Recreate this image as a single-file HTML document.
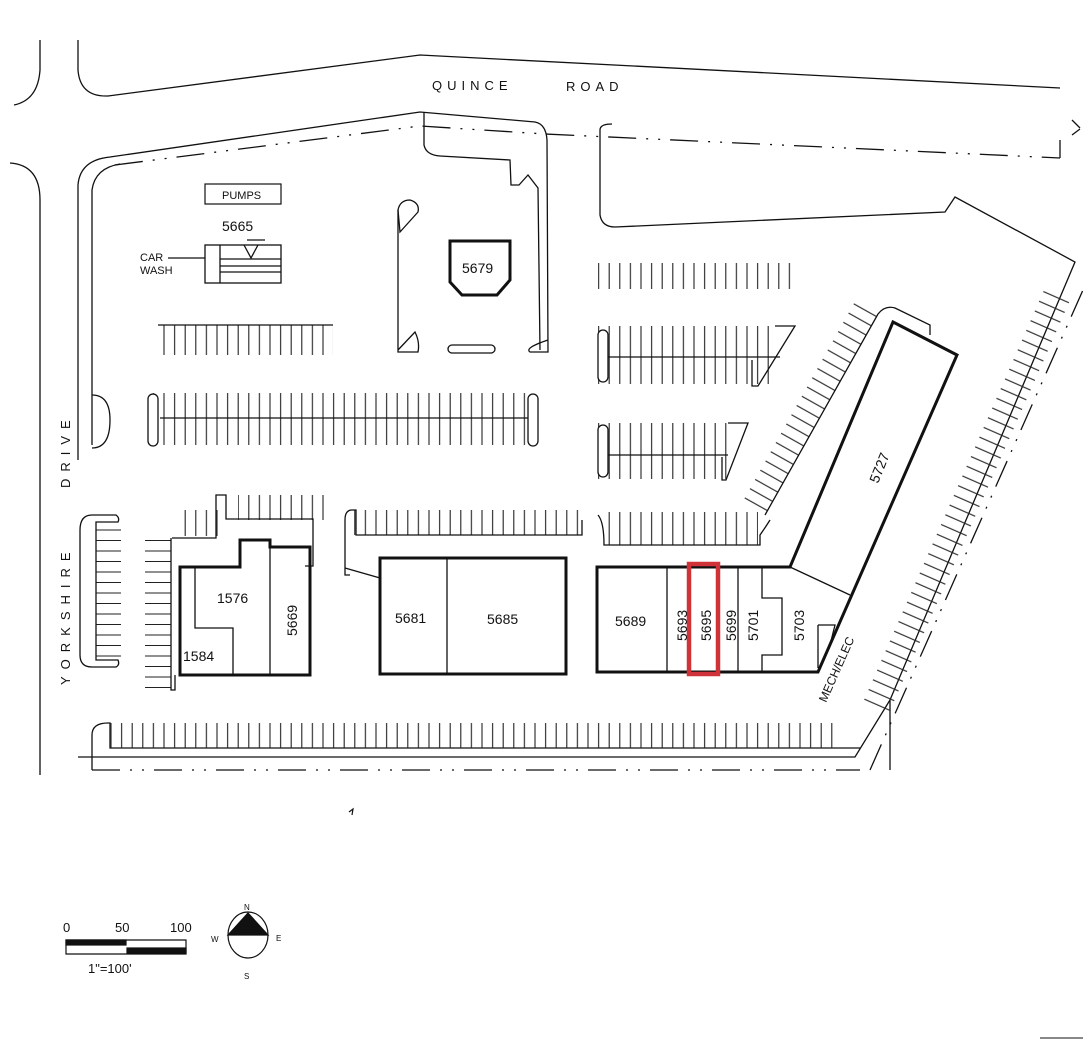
<!DOCTYPE html>
<html><head><meta charset="utf-8"><style>html,body{margin:0;padding:0;background:#fff}svg{display:block}text{font-family:"Liberation Sans",sans-serif;fill:#111}</style></head><body>
<svg width="1083" height="1045" viewBox="0 0 1083 1045" xmlns="http://www.w3.org/2000/svg">
<defs>
<pattern id="v" width="10.6" height="200" patternUnits="userSpaceOnUse"><line x1="5" y1="0" x2="5" y2="200" stroke="#222" stroke-width="1.1"/></pattern>
<pattern id="h" width="200" height="10.5" patternUnits="userSpaceOnUse"><line x1="0" y1="5" x2="200" y2="5" stroke="#222" stroke-width="1.1"/></pattern>
</defs>
<g fill="none" stroke="#111" stroke-width="1.3">
<!-- roads -->
<path d="M78 40 V70 Q80 97 108 96 L420 55 L1060 88"/>
<path d="M40 40 V70 Q38 100 14 105"/>
<path d="M10 163 Q40 165 40 200 V775"/>
<path d="M1072 120 l8 8 M1072 135 l8 -6"/>
<!-- site boundary top-left -->
<path d="M78 460 V185 Q80 160 110 157 L420 112 L535 122 Q546 124 547 140 L548 352 L530 352 Q524 348 548 340"/>
<path d="M92 445 V190 Q95 168 120 164"/>
<path d="M92 395 Q110 395 110 420 Q110 448 92 448"/>
<path d="M424 112 V145 Q426 155 440 156 L510 160 L511 185 L519 185 L528 175 L538 188 L540 350"/>
<path d="M115 165 L420 126 L545 134 L1060 158" stroke-dasharray="28 10 2 10 2 10"/>
<!-- gas island -->
<path d="M398 210 Q400 200 410 200 Q420 203 418 212 L400 232 Z"/>
<path d="M398 210 V352 H418 Q420 342 415 332 L398 350"/>
<rect x="448" y="345" width="47" height="8" rx="4"/>
<!-- right lot -->
<path d="M600 130 V215 Q602 227 615 227 L945 212 L955 197 L1075 262 L890 700 V770"/>
<path d="M600 130 Q600 124 612 124"/>
<path d="M1060 140 V158"/>
<path d="M870 770 L1083 290" stroke-dasharray="28 10 2 10 2 10"/>
<path d="M78 757 L855 757 L890 700"/>
<path d="M92 770 L860 770" stroke-dasharray="28 10 2 10 2 10"/>
<path d="M92 770 V735 Q92 723 108 723 H110 V748 H860"/>
<!-- pumps / carwash -->
<rect x="205" y="184" width="76" height="20" stroke-width="1.2"/>
<rect x="205" y="245" width="76" height="38"/>
<line x1="220" y1="245" x2="220" y2="283"/>
<line x1="220" y1="259" x2="281" y2="259"/><line x1="220" y1="266" x2="281" y2="266"/><line x1="220" y1="272" x2="281" y2="272"/>
<path d="M244 245 L251 258 L258 245 M247 240 H265"/>
<line x1="168" y1="258" x2="205" y2="258"/>
<!-- 5679 -->
<path d="M450 241 H510 V280 L497 295 H462 L450 282 Z" stroke-width="3"/>
<!-- parking rows -->
<rect x="158" y="325" width="175" height="30" fill="url(#v)" stroke="none"/>
<line x1="158" y1="325" x2="333" y2="325"/>
<rect x="150" y="393" width="380" height="52" fill="url(#v)" stroke="none"/>
<line x1="160" y1="418" x2="528" y2="418"/>
<rect x="148" y="394" width="10" height="52" rx="5" fill="#fff"/>
<rect x="528" y="394" width="10" height="52" rx="5" fill="#fff"/>
<rect x="598" y="263" width="200" height="26" fill="url(#v)" stroke="none"/>
<rect x="598" y="326" width="180" height="58" fill="url(#v)" stroke="none"/>
<line x1="608" y1="357" x2="780" y2="357"/>
<rect x="598" y="330" width="10" height="52" rx="5" fill="#fff"/>
<path d="M775 326 H795 L758 386 H752 V360"/>
<rect x="598" y="423" width="130" height="56" fill="url(#v)" stroke="none"/>
<line x1="608" y1="455" x2="728" y2="455"/>
<rect x="598" y="425" width="10" height="52" rx="5" fill="#fff"/>
<path d="M728 423 H748 L726 480 H722 V457"/>
<rect x="600" y="512" width="158" height="33" fill="url(#v)" stroke="none"/>
<path d="M598 515 Q604 522 604 545 H760 V535 Q765 528 770 520"/>
<rect x="352" y="510" width="230" height="25" fill="url(#v)" stroke="none"/>
<path d="M350 575 L345 575 V520 Q345 510 352 510 H356 V535 H582 V520"/>
<path d="M345 568 L380 578"/>
<rect x="176" y="510" width="50" height="26" fill="url(#v)" stroke="none"/>
<rect x="238" y="495" width="86" height="25" fill="url(#v)" stroke="none"/>
<path d="M172 538 H216 V495 H226 V519 H313 V566 H305"/>
<rect x="145" y="537" width="26" height="152" fill="url(#h)" stroke="none"/>
<path d="M171 538 V690 H175 V675"/>
<rect x="95" y="521" width="26" height="140" fill="url(#h)" stroke="none"/>
<path d="M116 515 H92 Q80 515 80 530 V655 Q80 667 92 667 H116 Q120 665 118 660 H96 V522 H118 Q120 518 116 515 Z" fill="#fff"/>
<rect x="110" y="723" width="726" height="25" fill="url(#v)" stroke="none"/>
<!-- diagonal rows -->
<g transform="translate(765,515) rotate(-60.7)"><rect x="0" y="-26" width="232" height="26" fill="url(#v)" stroke="none"/></g>
<path d="M765 515 L878 314 Q885 305 895 308 L930 325 V335"/>
<g transform="translate(888,715) rotate(-66.3)"><rect x="0" y="-28" width="453" height="28" fill="url(#v)" stroke="none"/></g>
<!-- buildings -->
<path d="M180 567 H240 V540 H270 V547 H310 V675 H180 Z" stroke-width="3"/>
<path d="M195 567 V628 H233 V675 M270 547 V675"/>
<rect x="380" y="558" width="186" height="116" stroke-width="3"/>
<line x1="447" y1="558" x2="447" y2="674"/>
<path d="M597 567 H790 L893 322 L957 355 L818 672 H597 Z" stroke-width="3"/>
<path d="M667 567 V672 M738 567 V672 M762 567 V598 H782 V655 H762 V672 M790 567 L850 595 M818 625 H835 L830 645 M818 625 V668"/>
</g>
<rect x="689" y="564" width="29" height="110" fill="none" stroke="#d0323a" stroke-width="4.5"/>
<!-- labels -->
<text x="432" y="90" font-size="13" letter-spacing="5">QUINCE</text>
<text x="566" y="91" font-size="13" letter-spacing="5">ROAD</text>
<text font-size="13" letter-spacing="7" transform="translate(70,685) rotate(-90)">YORKSHIRE</text>
<text font-size="13" letter-spacing="7" transform="translate(70,488) rotate(-90)">DRIVE</text>
<text x="222" y="199" font-size="11">PUMPS</text>
<text x="222" y="231" font-size="14">5665</text>
<text x="140" y="261" font-size="11">CAR</text>
<text x="140" y="274" font-size="11">WASH</text>
<text x="462" y="273" font-size="14">5679</text>
<text x="217" y="603" font-size="14">1576</text>
<text x="183" y="661" font-size="14">1584</text>
<text font-size="14" transform="translate(297,636) rotate(-90)">5669</text>
<text x="395" y="623" font-size="14">5681</text>
<text x="487" y="624" font-size="14">5685</text>
<text x="615" y="626" font-size="14">5689</text>
<text font-size="14" transform="translate(687,641) rotate(-90)">5693</text>
<text font-size="14" transform="translate(711,641) rotate(-90)">5695</text>
<text font-size="14" transform="translate(736,641) rotate(-90)">5699</text>
<text font-size="14" transform="translate(758,641) rotate(-90)">5701</text>
<text font-size="14" transform="translate(804,641) rotate(-90)">5703</text>
<text font-size="14" transform="translate(878,484) rotate(-68)">5727</text>
<text font-size="12" transform="translate(826,703) rotate(-66)">MECH/ELEC</text>
<!-- scale -->
<text x="63" y="932" font-size="13">0</text>
<text x="115" y="932" font-size="13">50</text>
<text x="170" y="932" font-size="13">100</text>
<g stroke="#111" fill="none" stroke-width="1.2">
<path d="M66 940 H186 V954 H66 Z"/>
<rect x="66" y="940" width="60" height="5" fill="#111"/>
<rect x="127" y="948" width="59" height="5" fill="#111"/>
<ellipse cx="248" cy="935" rx="20" ry="23"/>
<path d="M248 913 L268 935 H228 Z" fill="#111"/>
<path d="M349 812 l4 -3 l-1 6"/>
</g>
<text x="88" y="973" font-size="13">1"=100'</text>
<text x="244" y="910" font-size="8">N</text>
<text x="244" y="979" font-size="8">S</text>
<text x="211" y="942" font-size="8">W</text>
<text x="276" y="941" font-size="8">E</text>
<line x1="1040" y1="1038" x2="1083" y2="1038" stroke="#111"/>
</svg>
</body></html>
